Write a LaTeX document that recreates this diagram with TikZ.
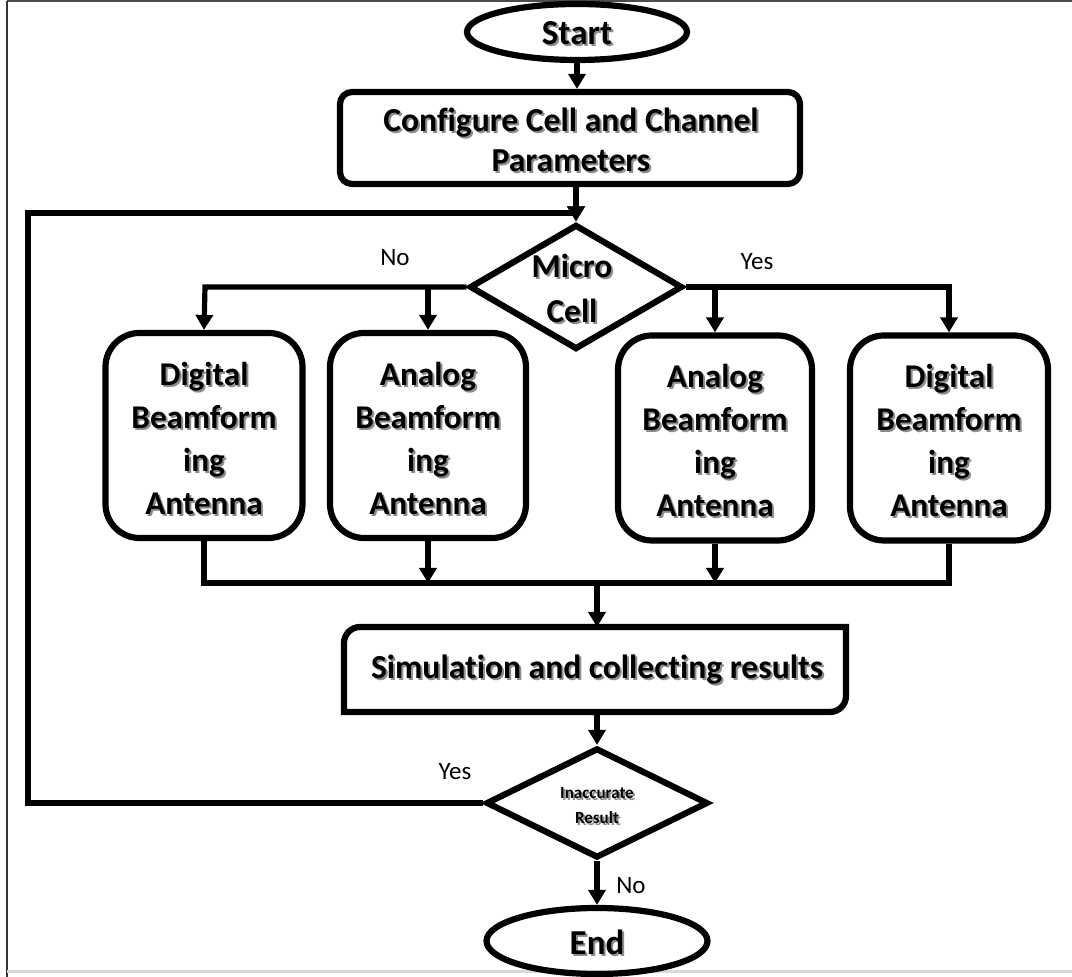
\documentclass[tikz,border=0pt]{standalone}
\usepackage{fontspec}
\setmainfont[Ligatures=NoCommon]{Carlito}
\usetikzlibrary{shapes.geometric,arrows.meta,calc}
\newcommand\ShText[4]{%
  \node[#3,text=black!45] (#1sh) at ([shift={(2,2)}]#2) {#4};
  \node[#3] (#1) at (#2) {#4};}
\begin{document}
\begin{tikzpicture}[x=0.5pt,y=-0.5pt,
  shp/.style={draw=black,line width=3.1pt,inner sep=0pt},
  term/.style={shp,ellipse},
  proc/.style={shp,rectangle,rounded corners=17pt},
  dec/.style={shp,diamond},
  ghost/.style={inner sep=0pt,outer sep=0pt},
  big/.style={font=\bfseries\fontsize{16.6}{21.5}\selectfont,align=center,inner sep=0pt},
  mid/.style={font=\bfseries\fontsize{16.7}{22.5}\selectfont,align=center,inner sep=0pt},
  tiny/.style={font=\bfseries\fontsize{8.5}{12.5}\selectfont,align=center,inner sep=0pt},
  lbl/.style={font=\fontsize{12.5}{14}\selectfont,inner sep=0pt},
  conn/.style={draw=black,line width=2.6pt,line join=miter},
  arr/.style={conn,-{Triangle[length=7.5pt,width=8.5pt]}}
]
\useasboundingbox (0,0) rectangle (1072,977);
% frame
\draw[black!70,line width=1pt] (7,1) -- (1072,1);
\draw[black!80,line width=1.1pt] (7,1) -- (7,977);
\draw[black!15,line width=1.5pt] (7,972) -- (1072,972);

% shapes
\node[term,minimum width=110pt,minimum height=28pt] (start) at (577,32) {};
\node[shp,rectangle,rounded corners=6pt,minimum width=230pt,minimum height=46pt] (config) at (570,138) {};
\node[dec,minimum width=106.5pt,minimum height=62.5pt] (micro) at (576,287) {};
\node[proc,minimum width=98.5pt,minimum height=102.5pt] (b1) at (204,435.5) {};
\node[proc,minimum width=98pt,minimum height=102.5pt] (b2) at (428,435.5) {};
\node[proc,minimum width=97pt,minimum height=102.5pt] (b3) at (715,438) {};
\node[proc,minimum width=99pt,minimum height=102.5pt] (b4) at (949,438) {};
\node[ghost,minimum width=251pt,minimum height=42.5pt] (sim) at (595,669.5) {};
\node[dec,minimum width=111pt,minimum height=55pt] (inacc) at (597,803) {};
\node[term,minimum width=110.5pt,minimum height=33pt] (end) at (597,941) {};

% simulation box: rounded at top-left and bottom-right only
\draw[line width=3.1pt,line join=miter]
  (sim.south west) -- ($(sim.north west)+(0,16)$)
  arc[start angle=180,end angle=270,radius=16]
  -- (sim.north east) -- ($(sim.south east)+(0,-16)$)
  arc[start angle=0,end angle=90,radius=16] -- cycle;

% texts
\ShText{tstart}{577,33}{font=\bfseries\fontsize{17.5}{20}\selectfont,inner sep=0pt}{Start}
\ShText{tconfig}{571,140}{font=\bfseries\fontsize{16.8}{20}\selectfont,align=center,inner sep=0pt}{Configure Cell and Channel\\Parameters}
\ShText{tmicro}{572,288}{mid}{Micro\\Cell}
\ShText{tb1}{204,438}{big}{Digital\\Beamform\\ing\\Antenna}
\ShText{tb2}{428,438}{big}{Analog\\Beamform\\ing\\Antenna}
\ShText{tb3}{715,440}{big}{Analog\\Beamform\\ing\\Antenna}
\ShText{tb4}{949,440}{big}{Digital\\Beamform\\ing\\Antenna}
\ShText{tsim}{597,670}{font=\bfseries\fontsize{16.8}{20}\selectfont,inner sep=0pt}{Simulation and collecting results}
\ShText{tinacc}{597,806}{tiny}{Inaccurate\\Result}
\ShText{tend}{597,942}{font=\bfseries\fontsize{17.5}{20}\selectfont,inner sep=0pt}{End}

% labels
\node[lbl] (lno1) at (395,258) {No};
\node[lbl] (lyes1) at (757,262) {Yes};
\node[lbl] (lyes2) at (455,772) {Yes};
\node[lbl] (lno2) at (631,886) {No};

% coordinates
\coordinate (lj) at (205,287);
\coordinate (rj) at (949,287);
\coordinate (mj) at (597,583);
\coordinate (loopA) at (28,803);
\coordinate (loopB) at (28,213);

% connectors
\draw[arr] (start.south) -- (start.south |- config.north);
\draw[arr] (config.south -| micro.north) -- (micro.north);
\draw[arr] (inacc.west) -- (loopA) -- (loopB) -- (micro.north |- loopB) -- (micro.north);
\draw[arr] (micro.west) -- (lj) -- (b1.north);
\draw[arr] (micro.west -| b2.north) -- (b2.north);
\draw[arr] (micro.east) -- (rj) -- (b4.north);
\draw[arr] (micro.east -| b3.north) -- (b3.north);
\draw[conn] (b1.south) -- (b1.south |- mj) -- (mj);
\draw[conn] (b4.south) -- (b4.south |- mj) -- (mj);
\draw[arr] (b2.south) -- (b2.south |- mj);
\draw[arr] (b3.south) -- (b3.south |- mj);
\draw[arr] (mj) -- (mj |- sim.north);
\draw[arr] (sim.south -| inacc.north) -- (inacc.north);
\draw[arr] (inacc.south) -- (end.north);
\end{tikzpicture}
\end{document}
